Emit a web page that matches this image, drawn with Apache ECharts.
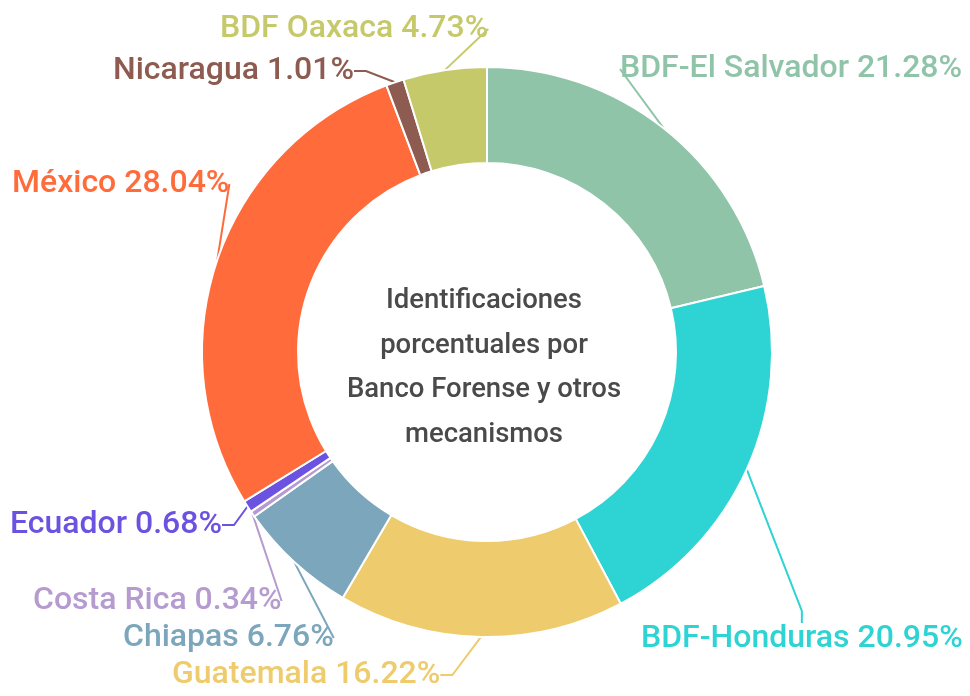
<!DOCTYPE html>
<html>
<head>
<meta charset="utf-8">
<script src="https://cdn.jsdelivr.net/npm/echarts@6/dist/echarts.min.js"></script>
<style>
  html, body { margin: 0; padding: 0; background: #fff; }
  #chart { width: 970px; height: 696px; }
</style>
</head>
<body>
<div id="chart"></div>
<script>
// categories, clockwise from 12 o'clock
const categories = ['BDF-El Salvador', 'BDF-Honduras', 'Guatemala', 'Chiapas', 'Costa Rica', 'Ecuador', 'México', 'Nicaragua', 'BDF Oaxaca']
const percents = [21.28, 20.95, 16.22, 6.76, 0.34, 0.68, 28.04, 1.01, 4.73]
const colors = ['#8fc4a8', '#2ed3d3', '#eecb6c', '#7ba6bc', '#b59bcf', '#6c52e0', '#ff6b3a', '#8d5b50', '#c5c96a']
const centerTitle = 'Identificaciones\nporcentuales por\nBanco Forense y otros\nmecanismos'

// label anchor (left x, middle y) for each slice
const labelPos = [
  [620, 69], [641, 639], [172, 675], [123, 638], [33, 601],
  [10, 525], [12, 184], [113, 71], [220, 29]
]
// short stub next to the label; Chiapas keeps it tiny so the line meets its right end
const stubLen = [12, 12, 12, 2, 12, 12, 12, 12, 12]

const chart = echarts.init(document.getElementById('chart'))

chart.setOption({
  animation: false,
  color: colors,
  title: {
    text: centerTitle,
    left: 479,
    top: 274,
    textAlign: 'center',
    textStyle: {
      fontFamily: 'Roboto',
      fontSize: 27.5,
      fontWeight: 500,
      color: '#4a4a4a',
      lineHeight: 44.5
    }
  },
  series: [
    {
      type: 'pie',
      center: [487, 352],
      radius: [189, 285],
      startAngle: 90,
      clockwise: true,
      itemStyle: { borderColor: '#fff', borderWidth: 2 },
      label: {
        show: true,
        formatter: (p) => p.name + ' ' + p.value.toFixed(2) + '%',
        fontFamily: 'Roboto',
        fontSize: 32,
        fontWeight: 500,
        overflow: 'none',
        color: 'inherit'
      },
      labelLine: {
        show: true,
        length: 10,
        length2: 12,
        lineStyle: { width: 2 }
      },
      labelLayout: (p) => ({
        x: labelPos[p.dataIndex][0],
        y: labelPos[p.dataIndex][1],
        align: 'left',
        verticalAlign: 'middle'
      }),
      data: categories.map((name, i) => ({
        name,
        value: percents[i],
        label: { color: colors[i] },
        labelLine: { length2: stubLen[i] }
      }))
    }
  ]
})
</script>
</body>
</html>
